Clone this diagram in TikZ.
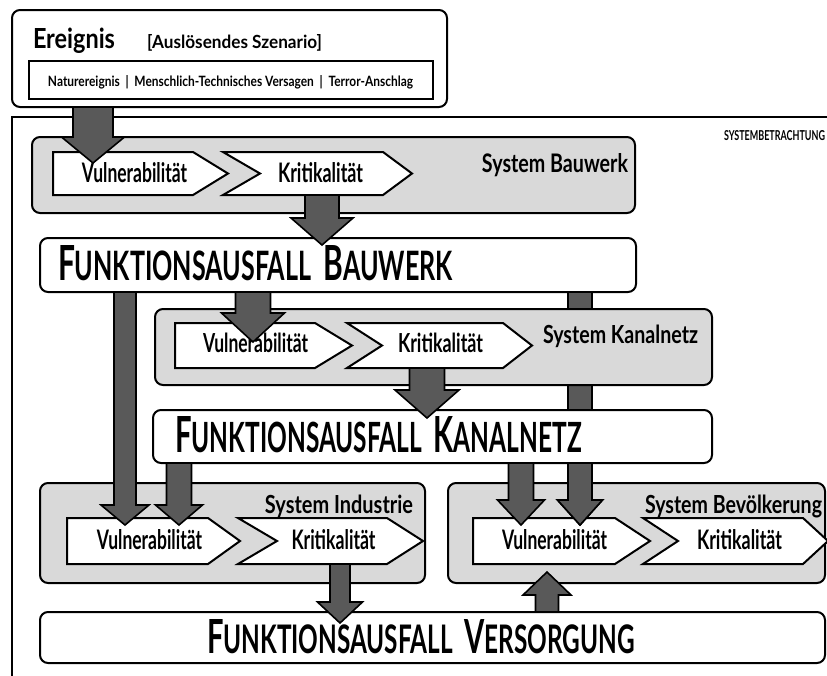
\documentclass[tikz,border=0pt]{standalone}
\usepackage{graphicx}
\usepackage{fontspec}
\setmainfont{Lato}
\definecolor{sysgray}{HTML}{D9D9D9}
\definecolor{arrowgray}{HTML}{595959}
\newcommand{\fsz}[1]{\fontsize{#1}{#1}\selectfont}
% fit text to width / height (above baseline) in pt
\newcommand{\fit}[3]{\resizebox{#1pt}{#2pt}{#3}}
\newcommand{\fatext}[2]{{\fsz{49}F\fsz{41}UNKTIONSAUSFALL\ \ \fsz{49}#1\fsz{41}#2}}
% block arrow: cx, half shaft, half head, y start, y head base, y tip
\newcommand{\barr}[6]{\draw[barrow] ({#1-#2},#4) -- ({#1-#2},#5) -- ({#1-#3},#5) -- (#1,#6) -- ({#1+#3},#5) -- ({#1+#2},#5) -- ({#1+#2},#4) -- cycle;}
% first chevron: left, flat end, tip, top, bottom
\newcommand{\chevA}[5]{\draw[chev] (#1,#4) -- (#2,#4) -- (#3,{(#4+#5)/2}) -- (#2,#5) -- (#1,#5) -- cycle;}
% second chevron: left, notch, flat end, tip, top, bottom
\newcommand{\chevB}[6]{\draw[chev] (#1,#5) -- (#3,#5) -- (#4,{(#5+#6)/2}) -- (#3,#6) -- (#1,#6) -- (#2,{(#5+#6)/2}) -- cycle;}
\begin{document}
\begin{tikzpicture}[x=1pt,y=-1pt,
  sysbox/.style={draw=black,line width=2pt,fill=sysgray,rounded corners=8pt},
  fabox/.style={draw=black,line width=2pt,fill=white,rounded corners=8pt},
  chev/.style={draw=black,line width=2pt,fill=white,line join=miter},
  barrow/.style={draw=black,line width=1.6pt,fill=arrowgray,line join=miter},
  txt/.style={inner sep=0pt,outer sep=0pt,font=\bfseries\fsz{20}},
  chevlbl/.style={txt,anchor=base},
  syslbl/.style={txt,anchor=base east},
  falbl/.style={txt,anchor=base west}]
\useasboundingbox (0,0) rectangle (827,675);
\clip (0,0) rectangle (827,675);
\fill[white] (0,0) rectangle (827,675);
% Ereignis
\draw[fabox] (12,10) rectangle (447,107);
\node[txt,anchor=base west] (ereignis) at (33,48) {\fit{82}{20.5}{Ereignis}};
\node[txt,anchor=base west] (szenario) at (147,48) {\fit{175}{14}{[Auslösendes Szenario]}};
\draw[black,line width=2pt] (29,61) rectangle (433,99);
\node[txt,anchor=base] (arten) at (230.5,86) {\fit{365}{11}{Naturereignis \ \textbar\ \ Menschlich-Technisches Versagen \ \textbar\ \ Terror-Anschlag}};
% system frame
\draw[black,line width=2pt] (12,117) rectangle (900,760);
\node[txt,anchor=base west] (systembetr) at (724,140) {\fit{101}{10}{SYSTEMBETRACHTUNG}};
% System Bauwerk
\draw[sysbox] (32,137) rectangle (635,213);
\chevA{53}{193}{228}{152}{195}
\chevB{223}{260}{383}{412}{152}{195}
\node[chevlbl] (vulnB) at (134.5,182) {\fit{105}{20}{Vulnerabilität}};
\node[chevlbl] (kritB) at (320.5,182) {\fit{85}{20}{Kritikalität}};
\node[syslbl] (sysB) at (628,172) {\fit{146}{19}{System Bauwerk}};
\barr{93}{20}{31.5}{107}{137}{163}
% FA Bauwerk
\draw[fabox] (40,238) rectangle (636,292);
\node[falbl] (faB) at (58,280) {\fit{395}{35}{\fatext{B}{AUWERK}}};
\barr{322}{17}{31}{195}{218}{245}
% System Industrie
\draw[sysbox] (40,483) rectangle (425,583);
\chevA{67}{208}{240}{518}{564}
\chevB{238}{277}{387}{423}{518}{564}
\node[chevlbl] (vulnI) at (149.5,549) {\fit{105}{20}{Vulnerabilität}};
\node[chevlbl] (kritI) at (333.5,549) {\fit{84}{20}{Kritikalität}};
\node[syslbl] (sysI) at (413,513) {\fit{148}{18.5}{System Industrie}};
% System Bevoelkerung
\draw[sysbox] (448,483) rectangle (825,583);
\chevA{473}{615}{650}{518}{564}
\chevB{643}{678}{803}{828}{518}{564}
\node[chevlbl] (vulnP) at (554.5,549) {\fit{105}{20}{Vulnerabilität}};
\node[chevlbl] (kritP) at (739.5,549) {\fit{85}{20}{Kritikalität}};
\node[syslbl] (sysP) at (822,513) {\fit{177}{18.5}{System Bevölkerung}};
% FA Versorgung
\draw[fabox] (40,612) rectangle (825,663);
\node[falbl] (faV) at (207,653) {\fit{428}{34}{\fatext{V}{ERSORGUNG}}};
% long arrows from FA Bauwerk
\barr{125}{11}{24}{292}{505}{525}
\barr{580}{12}{22.5}{292}{500}{525}
% System Kanalnetz
\draw[sysbox] (155,309) rectangle (712,385);
\chevA{175}{315}{352}{323}{368}
\chevB{347}{382}{503}{532}{323}{368}
\node[chevlbl] (vulnK) at (255.5,352) {\fit{105}{19.5}{Vulnerabilität}};
\node[chevlbl] (kritK) at (440.5,352) {\fit{85}{19.5}{Kritikalität}};
\node[syslbl] (sysK) at (698,343) {\fit{155}{18.5}{System Kanalnetz}};
% FA Kanalnetz
\draw[fabox] (153,410) rectangle (712,463);
\node[falbl] (faK) at (175,452) {\fit{407}{36}{\fatext{K}{ANALNETZ}}};
% arrows on top
\barr{580}{12}{22.5}{463}{500}{525}
\barr{253}{17.5}{31.5}{292}{313}{342}
\barr{427}{17.5}{32}{368}{390}{418}
\barr{179}{12.5}{23.5}{463}{505}{525}
\barr{521}{12.5}{23.5}{463}{500}{525}
\barr{340}{10}{22.5}{564}{602}{623}
\barr{547}{11.5}{24}{612}{595}{572}
\end{tikzpicture}
\end{document}
